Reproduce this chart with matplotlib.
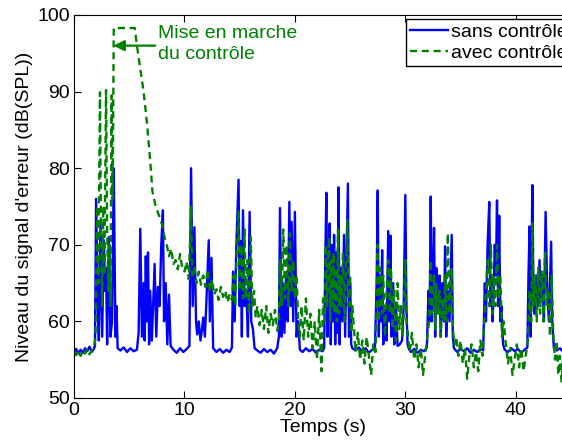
import numpy as np
import matplotlib
matplotlib.use("Agg")
import matplotlib.pyplot as plt

# Niveau du signal d'erreur, sans controle
t_sans = [0.0, 0.2, 0.4, 0.6, 0.8, 1.0, 1.2, 1.4, 1.6, 1.8, 1.9,
          2.0, 2.15, 2.25, 2.4, 2.55, 2.7, 2.8, 2.9, 3.0, 3.15, 3.3, 3.45, 3.6, 3.75, 3.85, 3.95,
          4.2, 4.5, 4.8, 5.1, 5.4, 5.7, 5.85,
          6.0, 6.15, 6.3, 6.4, 6.5, 6.6, 6.7, 6.8, 6.9, 7.05, 7.3, 7.45, 7.6, 7.75, 7.9, 8.05, 8.15,
          8.3, 8.45, 8.6, 8.75,
          9.0, 9.3, 9.6, 9.9, 10.2, 10.45,
          10.6, 10.75, 10.9, 11.05, 11.15, 11.3, 11.45, 11.6, 11.7, 11.85, 12.0, 12.2, 12.3, 12.45, 12.6,
          12.9, 13.2, 13.5, 13.8, 14.1, 14.3,
          14.4, 14.55, 14.7, 14.9, 15.0, 15.1, 15.2, 15.3, 15.45, 15.6, 15.75, 15.9, 16.05, 16.2, 16.35,
          16.6, 16.9, 17.2, 17.5, 17.8, 18.1, 18.4, 18.55,
          18.65, 18.8, 18.9, 19.05, 19.2, 19.35, 19.5, 19.6, 19.7, 19.85, 20.0, 20.15, 20.3, 20.45,
          20.7, 21.0, 21.3, 21.6, 21.9, 22.2, 22.5, 22.65,
          22.75, 22.85, 22.95, 23.05, 23.15, 23.25, 23.35, 23.45, 23.55, 23.65, 23.75, 23.85, 23.95,
          24.05, 24.15, 24.3, 24.45, 24.55, 24.65, 24.8, 24.9, 25.0, 25.1, 25.2,
          25.5, 25.8, 26.1, 26.4, 26.7, 27.0, 27.25,
          27.4, 27.5, 27.6, 27.7, 27.8, 27.9, 28.0, 28.15, 28.3, 28.45, 28.55, 28.65, 28.75, 28.9,
          29.0, 29.15, 29.3, 29.5, 29.7, 29.85, 30.0, 30.1, 30.2, 30.3,
          30.5, 30.8, 31.1, 31.4, 31.7, 31.95,
          32.1, 32.2, 32.3, 32.4, 32.5, 32.6, 32.7, 32.8, 32.95, 33.1, 33.2, 33.35, 33.5, 33.6, 33.7,
          33.85, 34.0, 34.2, 34.3, 34.4,
          34.7, 35.0, 35.3, 35.6, 35.9, 36.2, 36.5, 36.8, 37.05,
          37.2, 37.3, 37.45, 37.6, 37.7, 37.8, 37.9, 38.0, 38.1, 38.2, 38.3, 38.4, 38.5, 38.6, 38.7,
          38.85, 39.0,
          39.3, 39.6, 39.9, 40.2, 40.5, 40.8, 41.05,
          41.15, 41.25, 41.35, 41.5, 41.6, 41.7, 41.85, 42.0, 42.15, 42.25, 42.4, 42.55, 42.7, 42.85,
          43.0, 43.1, 43.2, 43.3, 43.45,
          43.7, 44.0, 44.3, 44.6, 45.0]
niv_sans = [56.0, 56.4, 55.8, 56.3, 55.9, 56.5, 56.1, 56.7, 56.0, 56.4, 56.8,
            76.0, 62.0, 57.5, 72.8, 58.0, 70.6, 64.0, 67.0, 57.0, 71.0, 58.0, 60.0, 80.0, 58.0, 62.0, 56.5,
            56.2, 56.6, 56.0, 56.5, 56.1, 56.3, 58.5,
            72.1, 58.0, 65.0, 57.5, 68.5, 60.0, 69.0, 57.0, 64.0, 57.5, 67.5, 58.0, 64.5, 62.0, 70.0, 74.5, 60.0,
            65.0, 57.0, 63.5, 56.8,
            56.3, 55.9, 56.5, 56.0, 56.4, 56.8,
            80.0, 62.0, 72.3, 60.0, 58.3, 60.0, 57.5, 59.0, 60.5, 58.0, 63.0, 70.6, 60.0, 68.3, 56.5,
            56.0, 56.4, 55.9, 56.3, 56.0, 56.6,
            66.5, 60.0, 70.0, 78.5, 62.0, 70.5, 58.0, 74.5, 62.0, 64.0, 58.0, 74.3, 60.0, 59.0, 56.5,
            56.2, 55.9, 56.4, 56.0, 56.3, 55.8, 56.5, 58.0,
            74.8, 58.0, 65.0, 58.5, 66.0, 60.0, 75.6, 62.0, 73.0, 60.0, 74.3, 58.0, 60.0, 56.3,
            56.0, 56.5, 56.1, 56.4, 55.9, 56.3, 56.1, 56.5,
            68.0, 76.8, 58.0, 68.0, 72.8, 57.0, 70.0, 60.0, 71.3, 57.0, 69.0, 58.5, 77.5,
            57.0, 67.0, 60.0, 71.3, 58.0, 66.0, 78.0, 58.0, 65.0, 57.0, 56.5,
            56.2, 56.6, 56.0, 56.5, 55.9, 56.3, 56.7,
            65.0, 77.1, 58.0, 66.0, 60.0, 69.3, 57.0, 62.0, 57.5, 71.8, 60.0, 71.2, 58.0, 65.0,
            57.0, 62.0, 56.8, 57.0, 57.5, 62.0, 76.5, 62.0, 57.0, 56.5,
            56.0, 56.4, 55.9, 56.3, 56.1, 56.6,
            64.0, 60.0, 76.3, 60.0, 65.0, 72.2, 58.0, 67.0, 62.0, 66.0, 58.0, 65.0, 60.0, 69.8, 58.0,
            64.0, 60.0, 71.3, 58.0, 56.5,
            56.0, 56.4, 56.1, 56.5, 55.9, 56.3, 56.0, 56.4, 56.2,
            65.0, 60.0, 70.0, 75.6, 62.0, 66.0, 60.0, 64.0, 70.0, 66.0, 75.8, 62.0, 73.8, 60.0, 62.0,
            57.0, 56.3,
            56.0, 56.5, 56.1, 56.4, 55.9, 56.3, 56.6,
            66.0, 72.4, 58.0, 77.8, 64.0, 61.0, 66.0, 62.0, 68.0, 63.0, 66.0, 60.0, 74.3, 64.0,
            60.0, 65.0, 70.4, 60.0, 56.5,
            56.2, 56.5, 56.0, 56.4, 56.1]

# Niveau du signal d'erreur, avec controle
t_avec = [0.0, 0.2, 0.4, 0.6, 0.8, 1.0, 1.2, 1.4, 1.6, 1.8, 1.95,
          2.1, 2.2, 2.35, 2.45, 2.55, 2.65, 2.75, 2.9, 3.0, 3.1, 3.2, 3.3, 3.4, 3.5,
          3.6, 4.0, 4.5, 5.0, 5.5,
          5.7, 6.0, 6.3, 6.6, 6.9, 7.1, 7.4, 7.7, 8.0,
          8.2, 8.4, 8.6, 8.8, 9.0, 9.2, 9.4, 9.6, 9.8, 10.0, 10.2, 10.4, 10.6, 10.7, 10.9,
          11.1, 11.3, 11.5, 11.7, 11.9, 12.1, 12.3, 12.5, 12.7, 12.9, 13.1, 13.3, 13.5, 13.7,
          13.9, 14.1, 14.3,
          14.45, 14.6, 14.75, 14.9, 15.0, 15.15, 15.3, 15.45, 15.55, 15.7, 15.85, 16.0, 16.15,
          16.3, 16.45,
          16.6, 16.8, 17.0, 17.2, 17.4, 17.6, 17.8, 18.0, 18.2, 18.4, 18.55,
          18.65, 18.8, 18.95, 19.1, 19.25, 19.4, 19.55, 19.7, 19.85, 20.0, 20.15, 20.3, 20.45,
          20.6, 20.8, 21.0, 21.2, 21.4, 21.6, 21.8, 22.0, 22.2, 22.4, 22.55,
          22.7, 22.8, 22.9, 23.0, 23.1, 23.2, 23.3, 23.4, 23.5, 23.6, 23.7, 23.8, 23.9, 24.0,
          24.1, 24.2, 24.35, 24.5, 24.6, 24.75, 24.85, 25.0, 25.1, 25.2,
          25.35, 25.5, 25.7, 25.9, 26.1, 26.3, 26.5, 26.7, 26.9, 27.1, 27.3,
          27.4, 27.5, 27.6, 27.75, 27.9, 28.0, 28.15, 28.3, 28.45, 28.6, 28.7, 28.85, 29.0,
          29.15, 29.3, 29.45, 29.6, 29.75, 29.9, 30.0, 30.1, 30.25,
          30.4, 30.6, 30.8, 31.0, 31.2, 31.4, 31.6, 31.8, 32.0,
          32.15, 32.3, 32.4, 32.5, 32.6, 32.7, 32.8, 32.95, 33.1, 33.2, 33.35, 33.5, 33.6, 33.7,
          33.85, 34.0, 34.2, 34.3, 34.45,
          34.6, 34.8, 35.0, 35.2, 35.4, 35.6, 35.8, 36.0, 36.2, 36.4, 36.6, 36.8, 37.0, 37.15,
          37.3, 37.45, 37.6, 37.75, 37.9, 38.0, 38.15, 38.3, 38.45, 38.6, 38.75, 38.9,
          39.1, 39.3, 39.5, 39.7, 39.9, 40.1, 40.3, 40.5, 40.7, 40.9, 41.1,
          41.25, 41.4, 41.5, 41.6, 41.75, 41.9, 42.05, 42.2, 42.35, 42.5, 42.65, 42.8, 42.95,
          43.1, 43.25, 43.4,
          43.55, 43.7, 43.85, 44.0, 44.15, 44.3, 44.5, 44.7, 45.0]
niv_avec = [56.0, 55.6, 56.3, 55.5, 56.2, 55.8, 56.4, 55.7, 56.2, 56.5, 58.0,
            75.0, 65.0, 89.9, 70.0, 62.0, 75.0, 66.0, 90.2, 72.0, 64.0, 70.0, 62.0, 89.5, 76.0,
            98.3, 98.3, 98.3, 98.3, 98.3,
            96.0, 93.0, 90.0, 86.0, 81.0, 77.0, 75.0, 73.8, 72.5,
            71.0, 70.0, 68.5, 69.5, 67.5, 68.0, 66.8, 68.8, 67.0, 66.5, 67.8, 65.5, 75.0, 66.0, 67.0,
            65.0, 66.5, 64.8, 66.0, 64.5, 66.8, 64.0, 65.5, 63.5, 64.2, 62.8, 64.5, 63.2, 64.0,
            62.5, 63.6, 62.8,
            66.0, 62.0, 70.0, 74.5, 64.0, 70.0, 63.0, 72.0, 63.0, 68.0, 61.0, 71.0, 62.0,
            64.0, 60.5,
            62.0, 59.5, 61.5, 59.0, 62.0, 58.5, 61.0, 59.5, 61.5, 58.8, 60.0,
            68.0, 62.0, 72.0, 63.0, 70.0, 62.0, 71.5, 64.0, 68.0, 63.0, 66.0, 60.0, 58.0,
            62.0, 57.5, 63.0, 58.0, 61.0, 56.5, 60.0, 55.0, 61.5, 53.5, 63.0,
            60.0, 70.0, 62.0, 68.0, 71.0, 60.0, 68.0, 62.0, 69.0, 61.0, 67.0, 60.0, 72.0, 61.0,
            66.0, 62.0, 69.0, 60.0, 66.0, 73.2, 62.0, 66.0, 58.5, 62.0,
            59.0, 56.0, 58.5, 55.0, 57.5, 54.5, 58.0, 55.5, 53.0, 57.0, 56.0,
            62.0, 70.0, 60.0, 67.0, 61.0, 66.0, 58.0, 64.0, 68.0, 61.0, 67.0, 59.0, 64.0,
            57.5, 65.0, 59.0, 62.0, 58.0, 63.0, 68.0, 60.0, 58.0,
            56.0, 58.5, 55.0, 57.0, 54.0, 56.5, 53.0, 55.5, 58.0,
            60.0, 68.0, 61.0, 64.0, 66.0, 59.0, 65.0, 61.0, 64.0, 58.0, 63.0, 60.0, 66.0, 60.0,
            71.5, 61.0, 67.0, 59.0, 57.0,
            58.0, 55.5, 57.5, 54.5, 56.5, 52.5, 55.5, 57.0, 54.0, 56.0, 53.5, 57.5, 55.5, 60.0,
            64.0, 68.0, 62.0, 70.0, 61.0, 66.0, 62.0, 70.0, 63.0, 66.0, 58.0, 60.0,
            57.0, 54.5, 56.5, 53.0, 55.0, 57.0, 54.0, 56.5, 53.5, 55.5, 57.5,
            64.0, 60.0, 72.8, 62.0, 66.0, 60.0, 67.0, 61.0, 66.5, 60.0, 69.0, 62.0, 64.0,
            58.0, 66.0, 58.0,
            55.0, 57.5, 53.0, 55.5, 52.0, 56.0, 54.0, 57.0, 55.5]

legend_labels = ["sans contrôle", "avec contrôle"]
annot_text = "Mise en marche\ndu contrôle"
x_ticks = [0, 10, 20, 30, 40]
y_ticks = [50, 60, 70, 80, 90, 100]

green = (0, 0.5, 0)
plt.rcParams['font.family'] = ['Liberation Sans', 'DejaVu Sans']
plt.rcParams['font.size'] = 14

fig = plt.figure(figsize=(5.62, 4.41), dpi=100)
ax = fig.add_axes([74 / 562, 43 / 441, 497 / 562, 383 / 441])

ax.plot(t_sans, niv_sans, color='b', lw=1.7, label=legend_labels[0])
ax.plot(t_avec, niv_avec, color=green, lw=1.7, linestyle=(0, (3, 2)),
        label=legend_labels[1])

ax.set_xlim(0, 45)
ax.set_ylim(50, 100)
ax.set_xticks(x_ticks)
ax.set_yticks(y_ticks)
ax.tick_params(direction='in', top=True, right=True, length=5, width=0.8, pad=3)
ax.set_xlabel("Temps (s)", labelpad=0)
ax.set_ylabel("Niveau du signal d'erreur (dB(SPL))", labelpad=3)

# fleche + texte d'annotation
ax.annotate('', xy=(3.57, 96.0), xytext=(7.36, 96.0),
            arrowprops=dict(arrowstyle='-|>', color=green, lw=1.6, mutation_scale=16,
                            shrinkA=0, shrinkB=0))
ax.text(7.6, 96.2, annot_text, color=green, fontsize=14, ha='left', va='center',
        linespacing=1.3)

leg = ax.legend(loc='upper left', bbox_to_anchor=(405.7 / 562, 1 - 19.3 / 441),
                bbox_transform=fig.transFigure, fancybox=False, framealpha=1,
                edgecolor='black', handlelength=2.0, handletextpad=0.15,
                labelspacing=0.2, borderpad=0.2, borderaxespad=0)
leg.get_frame().set_linewidth(1.0)

fig.savefig("out.png", dpi=100)
